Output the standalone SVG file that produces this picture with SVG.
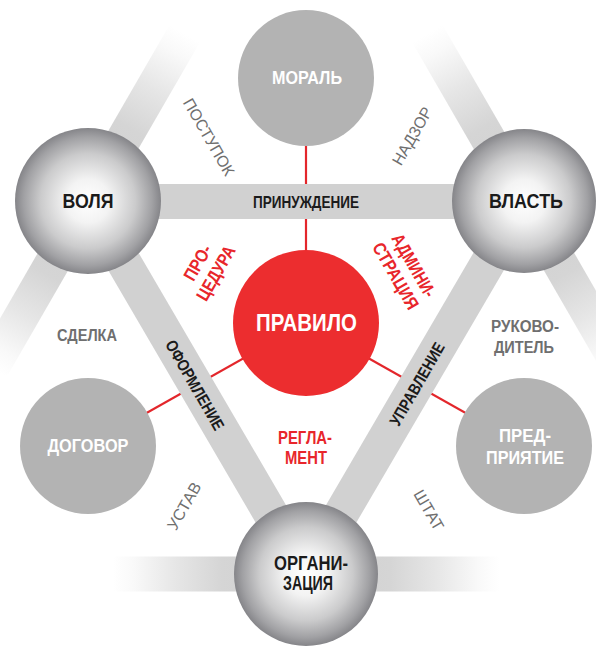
<svg xmlns="http://www.w3.org/2000/svg" width="596" height="646" viewBox="0 0 596 646">
<style>
  text { font-family: "Liberation Sans", Arial, sans-serif; text-anchor: middle; }
  .b { font-weight: bold; }
  .n { font-weight: normal; }
  .dark { fill: #1b1b1b; }
  .white { fill: #ffffff; }
  .red { fill: #e8262b; }
  .gray { fill: #6f6f6f; }
  .bar { stroke: #d1d1d1; stroke-width: 35; fill: none; }
  .rl { stroke: #e3262b; stroke-width: 2.2; fill: none; }
  .disc { fill: #b3b3b3; }
  .sphere { fill: url(#sph); }
  .fade { fill: url(#fade); }
</style>
<defs>
  <radialGradient id="sph" cx="0.5" cy="0.5" r="0.5">
    <stop offset="0" stop-color="#ffffff"/>
    <stop offset="0.3" stop-color="#f3f3f3"/>
    <stop offset="0.65" stop-color="#cbcbcc"/>
    <stop offset="0.88" stop-color="#a1a1a4"/>
    <stop offset="1" stop-color="#858589"/>
  </radialGradient>
  <linearGradient id="fade" x1="0" y1="0" x2="1" y2="0">
    <stop offset="0" stop-color="#cfcfcf"/>
    <stop offset="0.4" stop-color="#d5d5d5"/>
    <stop offset="0.62" stop-color="#e6e6e6"/>
    <stop offset="0.82" stop-color="#f9f9f9"/>
    <stop offset="0.92" stop-color="#ffffff"/>
  </linearGradient>
</defs>
<rect width="596" height="646" fill="#ffffff"/>

<g id="connectors">
  <rect class="fade" x="0" y="-17.5" width="210" height="35" transform="translate(88,201) rotate(-60)"/>
  <rect class="fade" x="0" y="-17.5" width="210" height="35" transform="translate(88,201) rotate(120)"/>
  <rect class="fade" x="0" y="-17.5" width="210" height="35" transform="translate(524,201) rotate(-120)"/>
  <rect class="fade" x="0" y="-17.5" width="210" height="35" transform="translate(524,201) rotate(60)"/>
  <rect class="fade" x="0" y="-17.5" width="210" height="35" transform="translate(306,574) rotate(180)"/>
  <rect class="fade" x="0" y="-17.5" width="210" height="35" transform="translate(306,574)"/>
  <line class="rl" x1="306" y1="140" x2="306" y2="260"/>
  <line class="rl" x1="306" y1="323" x2="88" y2="446"/>
  <line class="rl" x1="306" y1="323" x2="524" y2="446"/>
  <line class="bar" x1="88" y1="201.5" x2="524" y2="201.5"/>
  <line class="bar" x1="88" y1="201" x2="306" y2="574"/>
  <line class="bar" x1="524" y1="201" x2="306" y2="574"/>
  <text class="b dark" x="306" y="207.9" font-size="16.5" textLength="106" lengthAdjust="spacingAndGlyphs">ПРИНУЖДЕНИЕ</text>
  <text class="b dark" font-size="16.5" y="5.9" textLength="101" lengthAdjust="spacingAndGlyphs" transform="translate(195,385) rotate(60)">ОФОРМЛЕНИЕ</text>
  <text class="b dark" font-size="16.5" y="5.9" textLength="93" lengthAdjust="spacingAndGlyphs" transform="translate(417,384) rotate(-60)">УПРАВЛЕНИЕ</text>
</g>

<g id="moral">
  <circle class="disc" cx="306" cy="78" r="68"/>
  <text class="b white" x="307" y="83.8" font-size="19" textLength="70" lengthAdjust="spacingAndGlyphs">МОРАЛЬ</text>
</g>
<g id="dogovor">
  <circle class="disc" cx="88" cy="446" r="68"/>
  <text class="b white" x="88" y="451.8" font-size="19" textLength="81" lengthAdjust="spacingAndGlyphs">ДОГОВОР</text>
</g>
<g id="predpriyatie">
  <circle class="disc" cx="524" cy="446" r="68"/>
  <text class="b white" x="525" y="441.8" font-size="19" textLength="52" lengthAdjust="spacingAndGlyphs">ПРЕД-</text>
  <text class="b white" x="525" y="463.8" font-size="19" textLength="78" lengthAdjust="spacingAndGlyphs">ПРИЯТИЕ</text>
</g>
<g id="pravilo">
  <circle cx="306" cy="323" r="73" fill="#ec2d2f"/>
  <text class="b white" x="306.5" y="330.6" font-size="24" textLength="101" lengthAdjust="spacingAndGlyphs">ПРАВИЛО</text>
</g>
<g id="volya">
  <circle class="sphere" cx="88" cy="201" r="73"/>
  <text class="b dark" x="88" y="207.5" font-size="21" textLength="51" lengthAdjust="spacingAndGlyphs">ВОЛЯ</text>
</g>
<g id="vlast">
  <circle class="sphere" cx="524" cy="201" r="72"/>
  <text class="b dark" x="526" y="207.5" font-size="21" textLength="74" lengthAdjust="spacingAndGlyphs">ВЛАСТЬ</text>
</g>
<g id="organizaciya">
  <circle class="sphere" cx="306" cy="574" r="72"/>
  <text class="b dark" x="311" y="569.5" font-size="20" textLength="74" lengthAdjust="spacingAndGlyphs">ОРГАНИ-</text>
  <text class="b dark" x="308" y="589.5" font-size="20" textLength="50" lengthAdjust="spacingAndGlyphs">ЗАЦИЯ</text>
</g>

<g id="labels">
  <text class="n gray" font-size="16" y="5.7" textLength="86" lengthAdjust="spacingAndGlyphs" transform="translate(209,137) rotate(60)">ПОСТУПОК</text>
  <text class="n gray" font-size="16" y="5.7" textLength="64" lengthAdjust="spacingAndGlyphs" transform="translate(412,136) rotate(-60)">НАДЗОР</text>
  <text class="n gray" font-size="16" y="5.7" textLength="52" lengthAdjust="spacingAndGlyphs" transform="translate(184,506) rotate(-60)">УСТАВ</text>
  <text class="n gray" font-size="16" y="5.7" textLength="44" lengthAdjust="spacingAndGlyphs" transform="translate(429,510) rotate(60)">ШТАТ</text>
  <text class="b gray" x="87" y="340.8" font-size="16" textLength="60" lengthAdjust="spacingAndGlyphs">СДЕЛКА</text>
  <text class="b gray" x="525" y="331.8" font-size="16" textLength="68" lengthAdjust="spacingAndGlyphs">РУКОВО-</text>
  <text class="b gray" x="524" y="352.8" font-size="16" textLength="60" lengthAdjust="spacingAndGlyphs">ДИТЕЛЬ</text>
  <g transform="translate(206.5,267.7) rotate(-60)">
    <text class="b red" x="0" y="-4" font-size="18" textLength="38" lengthAdjust="spacingAndGlyphs">ПРО-</text>
    <text class="b red" x="0" y="17" font-size="18" textLength="60" lengthAdjust="spacingAndGlyphs">ЦЕДУРА</text>
  </g>
  <g transform="translate(405,270.5) rotate(60)">
    <text class="b red" x="0" y="-4" font-size="18" textLength="70" lengthAdjust="spacingAndGlyphs">АДМИНИ-</text>
    <text class="b red" x="0" y="17" font-size="18" textLength="74" lengthAdjust="spacingAndGlyphs">СТРАЦИЯ</text>
  </g>
  <text class="b red" x="305" y="443.5" font-size="18" textLength="54" lengthAdjust="spacingAndGlyphs">РЕГЛА-</text>
  <text class="b red" x="306" y="463.5" font-size="18" textLength="42" lengthAdjust="spacingAndGlyphs">МЕНТ</text>
</g>
</svg>
